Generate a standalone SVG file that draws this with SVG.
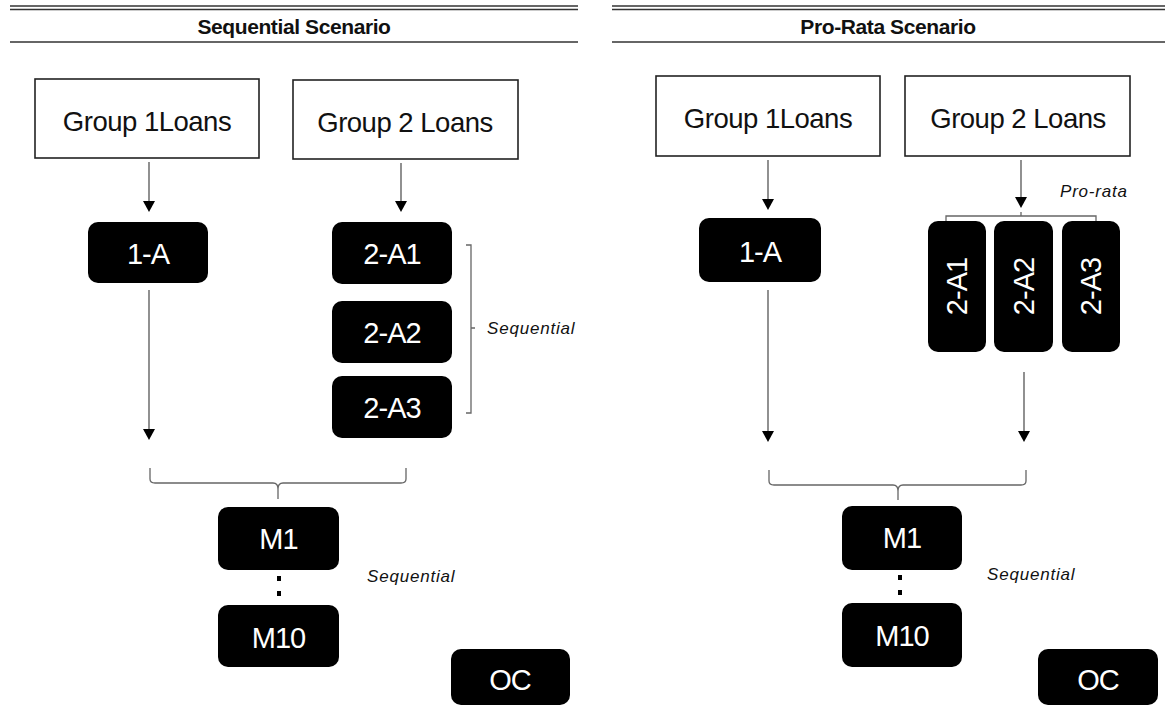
<svg xmlns="http://www.w3.org/2000/svg" width="1165" height="707" viewBox="0 0 1165 707">
<defs>
<style>
.hdr{stroke:#333;stroke-width:1.6;fill:none}
.title{font-family:"Liberation Sans",Arial,sans-serif;font-weight:bold;font-size:21px;fill:#111;text-anchor:middle;letter-spacing:-0.4px}
.wbox{fill:#fff;stroke:#222;stroke-width:1.6}
.bbox{fill:#000}
.wt{font-family:"Liberation Sans",Arial,sans-serif;font-size:27.5px;fill:#111;text-anchor:middle;letter-spacing:-0.5px}
.bt{font-family:"Liberation Sans",Arial,sans-serif;font-size:29px;fill:#fff;text-anchor:middle;letter-spacing:-1px}
.it{font-family:"Liberation Sans",Arial,sans-serif;font-style:italic;font-size:17px;fill:#111;letter-spacing:0.8px}
.ln{stroke:#555;stroke-width:1.3;fill:none}
.br{stroke:#666;stroke-width:1.3;fill:none}
</style>
</defs>

<g id="header-left">
<line class="hdr" x1="10" y1="6" x2="578" y2="6"/>
<line class="hdr" x1="10" y1="9.5" x2="578" y2="9.5"/>
<line class="hdr" x1="10" y1="42" x2="578" y2="42" stroke-width="2"/>
<text class="title" x="294" y="34">Sequential Scenario</text>
</g>
<g id="header-right">
<line class="hdr" x1="612" y1="6" x2="1165" y2="6"/>
<line class="hdr" x1="612" y1="9.5" x2="1165" y2="9.5"/>
<line class="hdr" x1="612" y1="42" x2="1165" y2="42" stroke-width="2"/>
<text class="title" x="888" y="34">Pro-Rata Scenario</text>
</g>

<g id="connectors">
<line class="ln" x1="149" y1="162" x2="149" y2="201"/>
<path d="M143,201 L155,201 L149,212 Z" fill="#000"/>
<line class="ln" x1="401" y1="163" x2="401" y2="201"/>
<path d="M395,201 L407,201 L401,212 Z" fill="#000"/>
<line class="ln" x1="149" y1="290" x2="149" y2="429"/>
<path d="M143,429 L155,429 L149,440 Z" fill="#000"/>
<path class="br" d="M466,245 H471 V413 H466 M471,328 H475"/>
<path class="br" d="M150,468 V479 Q150,483 155,483 H273 Q278,483 278,489 V499 M278,489 Q278,483 283,483 H401 Q406,483 406,479 V468"/>
<line class="ln" x1="768" y1="160" x2="768" y2="199"/>
<path d="M762,199 L774,199 L768,210 Z" fill="#000"/>
<line class="ln" x1="1021" y1="160" x2="1021" y2="197"/>
<path d="M1015,197 L1027,197 L1021,208 Z" fill="#000"/>
<path class="br" d="M946,221 V216 H1096 V221 M1021,216 V212"/>
<line class="ln" x1="768" y1="290" x2="768" y2="431"/>
<path d="M762,431 L774,431 L768,442 Z" fill="#000"/>
<line class="ln" x1="1024" y1="372" x2="1024" y2="431"/>
<path d="M1018,431 L1030,431 L1024,442 Z" fill="#000"/>
<path class="br" d="M769,470 V481 Q769,485 774,485 H893 Q898,485 898,491 V500 M898,491 Q898,485 903,485 H1021 Q1026,485 1026,481 V470"/>
</g>

<g id="L-group1"><rect class="wbox" x="35" y="79" width="224" height="79"/><text class="wt" x="147" y="131">Group 1Loans</text></g>
<g id="L-group2"><rect class="wbox" x="293" y="80" width="225" height="79"/><text class="wt" x="405" y="132">Group 2 Loans</text></g>
<g id="L-1A"><rect class="bbox" x="88" y="222" width="120" height="61" rx="10"/><text class="bt" x="148" y="264">1-A</text></g>
<g id="L-2A1"><rect class="bbox" x="332" y="222" width="120" height="62" rx="10"/><text class="bt" x="392" y="264">2-A1</text></g>
<g id="L-2A2"><rect class="bbox" x="332" y="301" width="120" height="62" rx="10"/><text class="bt" x="392" y="343">2-A2</text></g>
<g id="L-2A3"><rect class="bbox" x="332" y="376" width="120" height="62" rx="10"/><text class="bt" x="392" y="418">2-A3</text></g>
<g id="L-seq1"><text class="it" x="487" y="334">Sequential</text></g>
<g id="L-M1"><rect class="bbox" x="218" y="507" width="121" height="63" rx="10"/><text class="bt" x="278.5" y="549">M1</text></g>
<g id="L-dots"><rect x="277" y="576" width="4" height="5" fill="#000"/><rect x="277" y="591" width="4" height="5" fill="#000"/></g>
<g id="L-M10"><rect class="bbox" x="218" y="605" width="121" height="62" rx="10"/><text class="bt" x="278.5" y="648">M10</text></g>
<g id="L-seq2"><text class="it" x="367" y="582">Sequential</text></g>
<g id="L-OC"><rect class="bbox" x="451" y="649" width="119" height="56" rx="10"/><text class="bt" x="510" y="690" letter-spacing="-3px">OC</text></g>

<g id="R-group1"><rect class="wbox" x="656" y="76" width="224" height="80"/><text class="wt" x="768" y="128">Group 1Loans</text></g>
<g id="R-group2"><rect class="wbox" x="905" y="76" width="225" height="80"/><text class="wt" x="1018" y="128">Group 2 Loans</text></g>
<g id="R-prorata"><text class="it" x="1060" y="197">Pro-rata</text></g>
<g id="R-1A"><rect class="bbox" x="699" y="218" width="122" height="64" rx="10"/><text class="bt" x="760" y="262">1-A</text></g>
<g id="R-2A1"><rect class="bbox" x="928" y="221" width="58" height="131" rx="10"/><text class="bt" transform="translate(967,286.5) rotate(-90)" x="0" y="0">2-A1</text></g>
<g id="R-2A2"><rect class="bbox" x="994" y="221" width="59" height="131" rx="10"/><text class="bt" transform="translate(1034,286.5) rotate(-90)" x="0" y="0">2-A2</text></g>
<g id="R-2A3"><rect class="bbox" x="1062" y="221" width="58" height="131" rx="10"/><text class="bt" transform="translate(1101,286.5) rotate(-90)" x="0" y="0">2-A3</text></g>
<g id="R-M1"><rect class="bbox" x="842" y="506" width="120" height="64" rx="10"/><text class="bt" x="902" y="548">M1</text></g>
<g id="R-dots"><rect x="898" y="575" width="4" height="5" fill="#000"/><rect x="898" y="590" width="4" height="5" fill="#000"/></g>
<g id="R-M10"><rect class="bbox" x="842" y="603" width="120" height="64" rx="10"/><text class="bt" x="902" y="646">M10</text></g>
<g id="R-seq"><text class="it" x="987" y="580">Sequential</text></g>
<g id="R-OC"><rect class="bbox" x="1038" y="649" width="120" height="56" rx="10"/><text class="bt" x="1098" y="690" letter-spacing="-3px">OC</text></g>
</svg>
